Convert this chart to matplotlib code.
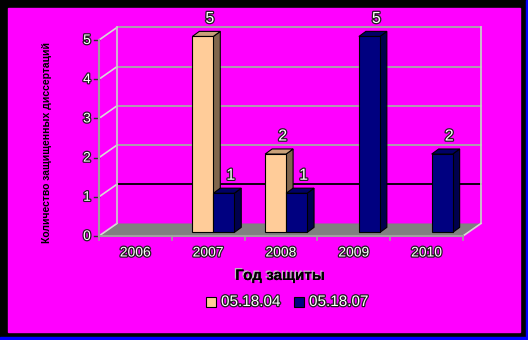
import matplotlib
matplotlib.use("Agg")
import matplotlib.pyplot as plt
import matplotlib.patheffects as pe
from matplotlib.patches import Polygon, Rectangle

years = ["2006", "2007", "2008", "2009", "2010"]
series_names = ["05.18.04", "05.18.07"]
defended_0418 = [0, 5, 2, 0, 0]
defended_0718 = [0, 1, 1, 5, 2]
y_ticks = [0, 1, 2, 3, 4, 5]

W, H = 528, 340
MAGENTA = "#ff00ff"
FACES = {  # front, top, side
    "05.18.04": ("#ffcc99", "#c9a17a", "#80664d"),
    "05.18.07": ("#000080", "#000066", "#00004d"),
}

# depth of the box (back wall offset) and of a bar, in data units
DX, DY = 0.247, 0.32
BAR_W = 0.288
BAR_SHIFT_X, BAR_SHIFT_Y = 0.07, 0.09
BDX, BDY = 0.096, 0.13

OUTLINE = [pe.withStroke(linewidth=1.8, foreground="#202020")]


def fx(x):
    return x / W


def fy(y):
    return 1 - y / H


fig = plt.figure(figsize=(W / 100, H / 100), dpi=100)
fig.patch.set_facecolor("black")
fig.patches.append(Rectangle((fx(8), fy(332)), (520 - 8) / W, (332 - 8) / H,
                             transform=fig.transFigure, color=MAGENTA, zorder=0))
fig.patches.append(Rectangle((fx(526), 0), 2 / W, 1, transform=fig.transFigure,
                             color="#0000ff", zorder=0))
fig.patches.append(Rectangle((0, 0), 1, 3 / H, transform=fig.transFigure,
                             color="#0000ff", zorder=0))

ax = fig.add_axes([fx(99), fy(236), (463 - 99) / W, (236 - 40) / H])
ax.set_zorder(2)
ax.set_xlim(0, len(years))
ax.set_ylim(0, 5)
ax.axis("off")
n = len(years)

# floor and walls
ax.add_patch(Polygon([(0, 0), (n, 0), (n + DX, DY), (DX, DY)], closed=True,
                     facecolor="#808080", edgecolor="none", clip_on=False, zorder=1))
for k in y_ticks[1:]:
    ax.plot([DX, n + DX], [k + DY, k + DY], color="black" if k == 1 else "#a8a8a8",
            lw=1.3, clip_on=False, zorder=2)
for k in y_ticks:
    ax.plot([0, DX], [k, k + DY], color="#d8d8d8", lw=1.2, clip_on=False, zorder=2)
    ax.plot([-0.07, 0], [k, k], color="#303030", lw=1, clip_on=False, zorder=2)
    ax.text(-0.165, k, str(k), ha="center", va="center", fontsize=10,
            family="Liberation Sans", color="white", path_effects=OUTLINE)
ax.plot([DX, DX], [DY, 5 + DY], color="#c8c8c8", lw=1.3, clip_on=False, zorder=2)
ax.plot([n + DX, n + DX], [DY, 5 + DY], color="#c8c8c8", lw=1.3, clip_on=False, zorder=2)
ax.plot([n, n + DX], [0, DY], color="#d8d8d8", lw=1.2, clip_on=False, zorder=2)
ax.plot([0, 0], [0, 5], color="#a0a0a0", lw=1.5, clip_on=False, zorder=2)
ax.plot([0, n], [0, 0], color="#a0a0a0", lw=1.5, clip_on=False, zorder=2)
for i in range(n + 1):
    ax.plot([i, i], [0, -0.1], color="#a0a0a0", lw=1.2, clip_on=False, zorder=2)

for i, year in enumerate(years):
    ax.text(i + 0.5, -0.42, year, ha="center", va="center", fontsize=10,
            family="Liberation Sans", color="white", path_effects=OUTLINE)


def bar3d(x0, v, name, z):
    front, top, side = FACES[name]
    b = BAR_SHIFT_Y
    kw = dict(closed=True, edgecolor="black", lw=0.8, clip_on=False, zorder=z)
    ax.add_patch(Polygon([(x0 + BAR_W, b), (x0 + BAR_W + BDX, b + BDY),
                          (x0 + BAR_W + BDX, b + v + BDY), (x0 + BAR_W, b + v)],
                         facecolor=side, **kw))
    ax.add_patch(Polygon([(x0, b + v), (x0 + BAR_W, b + v),
                          (x0 + BAR_W + BDX, b + v + BDY), (x0 + BDX, b + v + BDY)],
                         facecolor=top, **kw))
    ax.add_patch(Rectangle((x0, b), BAR_W, v, facecolor=front, edgecolor="black",
                           lw=0.8, clip_on=False, zorder=z))
    ax.text(x0 + BAR_W / 2 + BDX, v + 0.55, str(v), ha="center", va="center",
            fontsize=11.5, family="Liberation Sans", color="white",
            path_effects=OUTLINE, zorder=z + 1)


z = 5
for i in range(n):
    c = i + 0.5 + BAR_SHIFT_X
    for j, (name, vals) in enumerate(zip(series_names, [defended_0418, defended_0718])):
        if vals[i] > 0:
            bar3d(c - BAR_W + j * BAR_W, vals[i], name, z)
        z += 2

fig.text(fx(47), fy(142), "Количество защищенных диссертаций", rotation=90,
         ha="center", va="center", fontsize=7.5, fontweight="bold",
         family="Liberation Sans", color="black")
fig.text(fx(280), fy(276), "Год защиты", ha="center", va="center", fontsize=11,
         fontweight="bold", family="Liberation Sans", color="black",
         path_effects=[pe.withSimplePatchShadow(offset=(-1, 1), shadow_rgbFace="#c0c0c0",
                                                alpha=1), pe.Normal()])

# legend
for name, sq_x in zip(series_names, [206, 294]):
    fig.patches.append(Rectangle((fx(sq_x), fy(307)), 10 / W, 10 / H,
                                 transform=fig.transFigure, facecolor=FACES[name][0],
                                 edgecolor="black", lw=0.8, zorder=3))
    fig.text(fx(sq_x + 15), fy(302), name, ha="left", va="center", fontsize=11,
             family="Liberation Sans", color="white", path_effects=OUTLINE)

fig.savefig("out.png", dpi=100, facecolor=fig.get_facecolor())
